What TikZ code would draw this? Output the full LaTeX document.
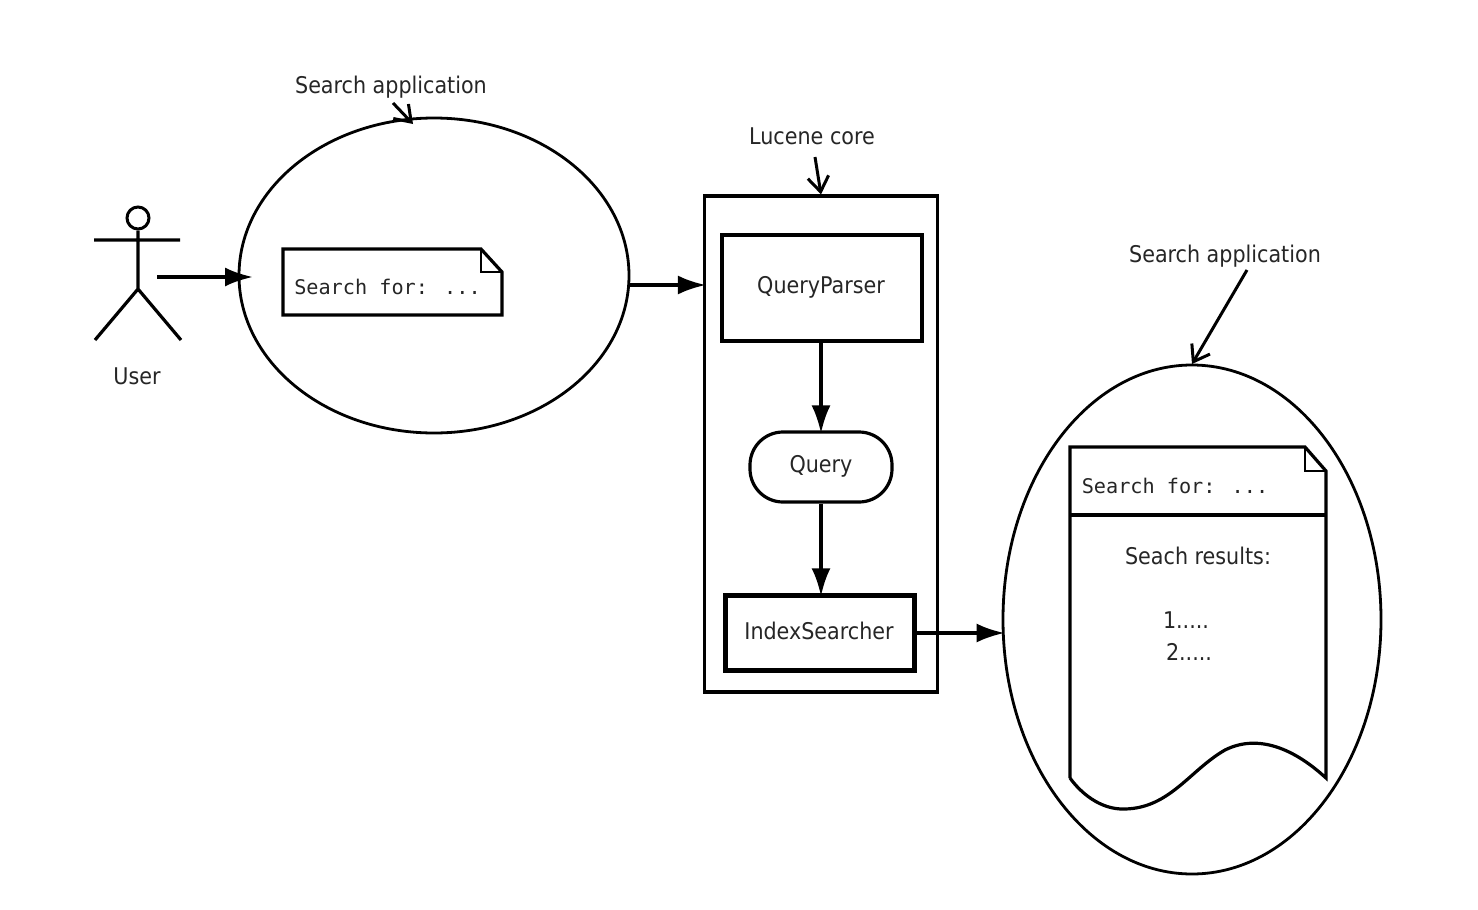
\documentclass[tikz,border=0pt]{standalone}
\usepackage{fontspec}
\setmainfont{DejaVu Sans Condensed}
\newfontfamily\monof{DejaVu Sans Mono}
\usetikzlibrary{shapes.geometric,arrows.meta}
\tikzset{
  x=1pt,y=-1pt,
  line/.style={line width=3.2pt,black},
  lbl/.style={font=\fontsize{23}{27}\selectfont,inner sep=0pt,text=black!85},
  mono/.style={font=\monof\fontsize{20.2}{24}\selectfont,inner sep=0pt,text=black!85},
  boxn/.style={draw,line width=3.2pt,rectangle,inner sep=0pt,anchor=center},
  ell/.style={draw,line width=2.8pt,ellipse,inner sep=0pt},
  flow/.style={line width=3.4pt,-{Latex[length=28pt,width=19pt]},shorten >=-3pt},
  note/.style={line width=3pt,-{Straight Barb[length=15pt,width=21pt,line width=3pt]}},
}
\begin{document}
\begin{tikzpicture}
\useasboundingbox (0,0) rectangle (1478,910);
\fill[white] (0,0) rectangle (1478,910);
% ellipses
\node[ell,minimum width=390pt,minimum height=315pt] (app1) at (434,275.5) {};
\node[ell,minimum width=378pt,minimum height=509pt] (app2) at (1192,619.5) {};
% Lucene core and inner nodes
\node[boxn,minimum width=233pt,minimum height=496pt] (core) at (821,444) {};
\node[boxn,minimum width=200pt,minimum height=106pt] (qp) at (822,288) {};
\node[lbl] (qpt) at (821,287) {QueryParser};
\node[draw,line width=3.2pt,rectangle,rounded corners=33pt,minimum width=142pt,minimum height=70pt,inner sep=0pt] (q) at (821,467) {};
\node[lbl] (qt) at (821,466) {Query};
\node[boxn,line width=4.4pt,minimum width=189pt,minimum height=75pt] (is) at (820,633) {};
\node[lbl] (ist) at (819,631) {IndexSearcher};
% user
\node[draw,circle,line width=3pt,minimum size=22pt,inner sep=0pt] (head) at (138,218) {};
\coordinate (hip) at (138,289);
\coordinate (la) at (94,240);
\coordinate (ra) at (180,240);
\coordinate (lf) at (95,340);
\coordinate (rf) at (181,340);
\draw[line] (head.south) -- (hip) (la) -- (ra) (lf) -- (hip) -- (rf);
\node[lbl] (user) at (137,376) {User};
% note 1
\coordinate (n1a) at (283,249);
\coordinate (n1b) at (481,249);
\coordinate (n1c) at (502,272);
\coordinate (n1d) at (502,315);
\coordinate (n1e) at (283,315);
\coordinate (n1f) at (481,272);
\draw[line,line join=miter] (n1a) -- (n1b) -- (n1c) -- (n1d) -- (n1e) -- cycle;
\draw[line width=1.8pt] (n1b) -- (n1f) -- (n1c);
\node[mono] (s1) at (387.5,287) {Search for: ...};
% document in result
\coordinate (d1a) at (1070,447);
\coordinate (d1b) at (1305,447);
\coordinate (d1c) at (1326,471);
\coordinate (d1d) at (1326,778);
\coordinate (d1e) at (1070,778);
\coordinate (d1f) at (1305,471);
\coordinate (d1l) at (1070,515);
\coordinate (d1r) at (1326,515);
\draw[line,line join=miter] (d1e) -- (d1a) -- (d1b) -- (d1c) -- (d1d)
  .. controls (1290,745) and (1255,735) .. (1225,750)
  .. controls (1190,770) and (1170,808) .. (1125,809)
  .. controls (1100,810) and (1080,792) .. (d1e);
\draw[line width=1.8pt] (d1b) -- (d1f) -- (d1c);
\draw[line width=4pt] (d1l) -- (d1r);
\node[mono] (s2) at (1175,486) {Search for: ...};
\node[lbl] (res) at (1198,556) {Seach results:};
\node[lbl] (r1) at (1186,620) {1.....};
\node[lbl] (r2) at (1189,652) {2.....};
% labels
\node[lbl] (l1) at (391,87) {Search application};
\node[lbl] (l2) at (812,136) {Lucene core};
\node[lbl] (l3) at (1225,256) {Search application};
% connectors
\coordinate (u) at (157,277);
\coordinate (e) at (250,277);
\draw[flow] (u) -- (e);
\coordinate (f1) at (628,285);
\draw[flow] (f1) -- (core.west |- f1);
\draw[flow] (qp.south -| q.north) -- (q.north);
\draw[flow] (q.south) -- (q.south |- is.north);
\draw[flow] (is.east) -- (app2.west |- is.east);
\coordinate (a1s) at (393,103);
\coordinate (a1e) at (413,124);
\draw[note] (a1s) -- (a1e);
\coordinate (a2s) at (815,157);
\draw[note] (a2s) -- (core.north);
\coordinate (a3s) at (1247,270);
\coordinate (a3e) at (1192,364);
\draw[note] (a3s) -- (a3e);
\end{tikzpicture}
\end{document}
